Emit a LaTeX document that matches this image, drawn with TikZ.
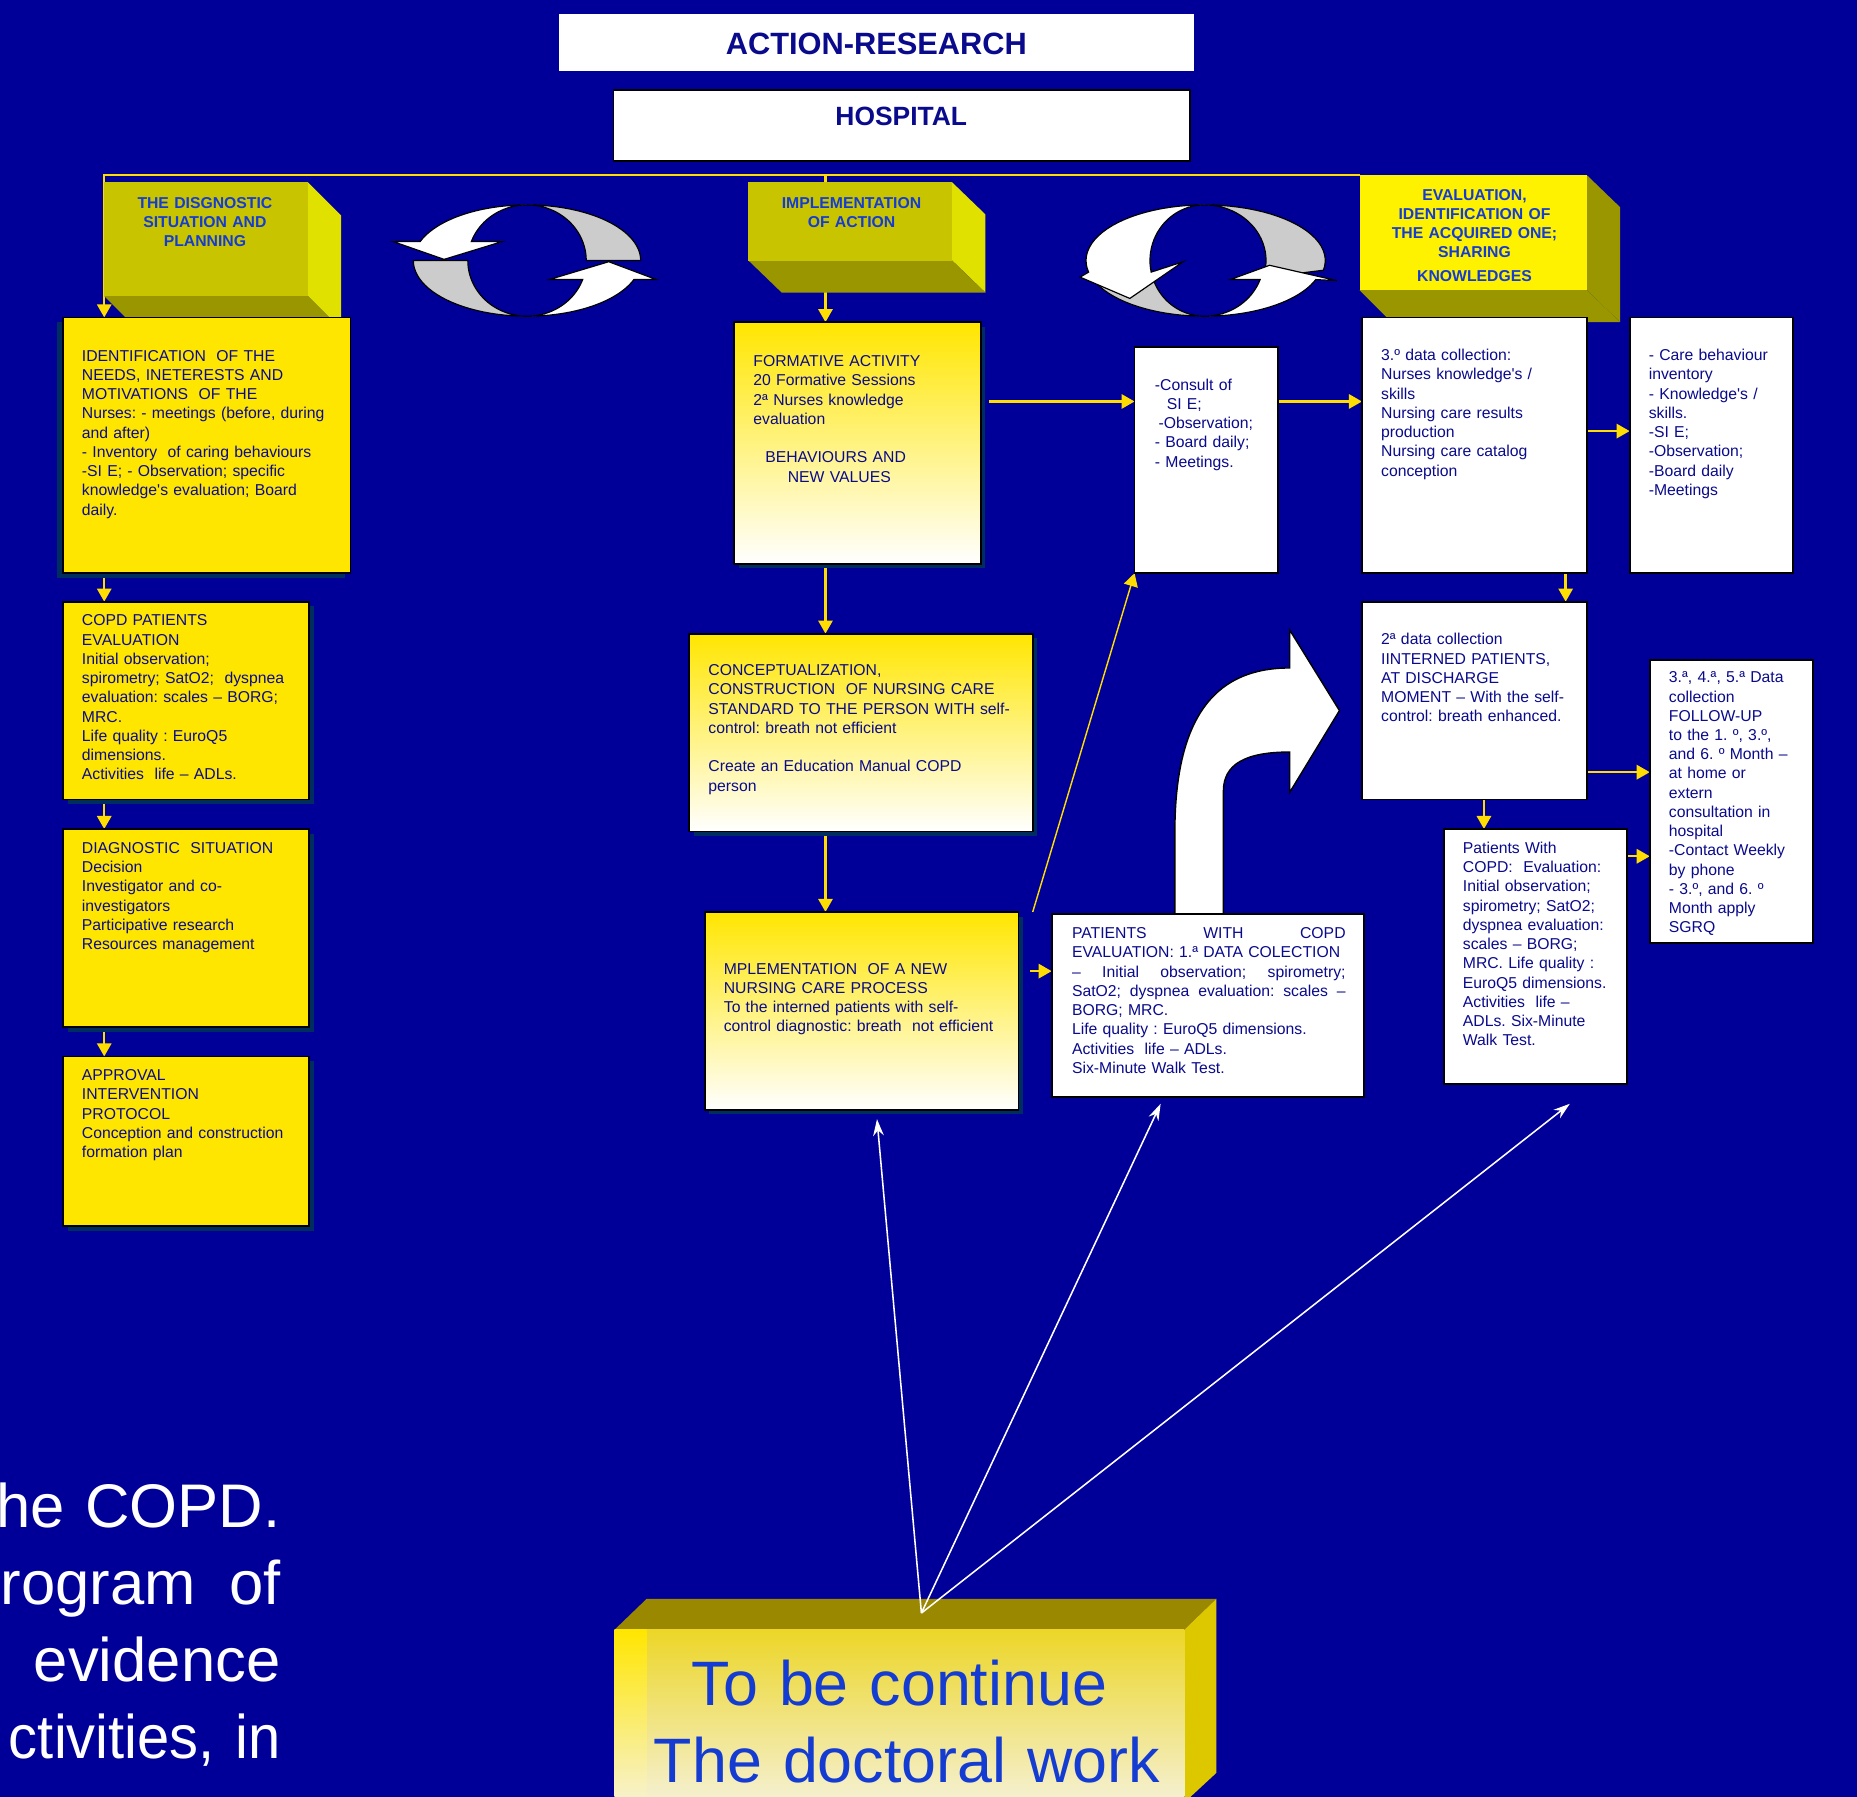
\documentclass[tikz,border=0pt]{standalone}
\usepackage{fontspec}
\setmainfont{Liberation Sans}
\frenchspacing
\usetikzlibrary{positioning, arrows.meta, shadows}
\definecolor{slideblue}{RGB}{0,0,153}
\definecolor{boxyellow}{RGB}{255,230,0}
\definecolor{paleyellow}{RGB}{255,242,150}
\definecolor{lineyellow}{RGB}{255,221,0}
\definecolor{inkblue}{RGB}{10,10,140}
\definecolor{headblue}{RGB}{20,60,210}
\definecolor{oliveface}{RGB}{200,196,0}
\definecolor{oliveside}{RGB}{225,225,0}
\definecolor{olivedark}{RGB}{153,150,0}
\definecolor{olivetop}{RGB}{153,136,0}
\definecolor{tbcside}{RGB}{221,200,0}
\definecolor{tbctop}{RGB}{236,214,40}
\definecolor{tbcbottom}{RGB}{246,243,228}
\definecolor{ringgray}{RGB}{204,204,204}
\definecolor{shadowblue}{RGB}{0,45,95}

\pgfdeclarelayer{bg}
\pgfdeclarelayer{wires}
\pgfsetlayers{bg,wires,main}

\tikzset{
    x=1pt, y=-1pt, % one unit = one pixel of the slide, y grows downwards
    panel/.style={anchor=north west, inner sep=0pt, outer sep=0pt, line width=1.5pt, draw=black},
    boxshadow/.style={drop shadow={shadow xshift=#1, shadow yshift=-4pt, fill=shadowblue, opacity=1}},
    boxshadow/.default=4pt,
    yellowbox/.style={panel, fill=boxyellow},
    fadebox/.style={panel, top color=boxyellow, middle color=paleyellow, bottom color=white},
    whitebox/.style={panel, fill=white},
    headface/.style={anchor=north west, inner sep=0pt, outer sep=0pt},
    boxtext/.style={anchor=base west, inner sep=0pt, text width=300pt, align=left, text=inkblue, font=\fontsize{13.3}{16.25}\selectfont},
    headtext/.style={anchor=base, inner sep=0pt, text width=200pt, align=center, text=headblue, font=\bfseries\fontsize{13.3}{16.25}\selectfont},
    yarrow/.style={draw=lineyellow, line width=2pt, -{Triangle[width=12pt,length=11pt]}},
    thinyarrow/.style={yarrow, line width=1.2pt},
    warrow/.style={draw=white, line width=1.3pt, -{Stealth[width=9pt,length=14pt]}},
    ringpart/.style={line width=1pt, draw=black, fill=#1},
}

\begin{document}
\begin{tikzpicture}
\useasboundingbox (0,0) rectangle (1568,1517);
\begin{pgfonlayer}{bg}
  \fill[slideblue] (0,0) rectangle (1568,1517);
\end{pgfonlayer}
\clip (0,0) rectangle (1568,1517);

% titles
\node[headface, fill=white, minimum width=536, minimum height=48] (title) at (472,12) {};
\node[anchor=base, inner sep=0pt, text=inkblue, font=\bfseries\fontsize{26}{30}\selectfont] (titletxt) at (740,46) {ACTION-RESEARCH};
\node[whitebox, minimum width=487, minimum height=60] (hospital) at (518,76) {};
\node[anchor=base, inner sep=0pt, text=inkblue, font=\bfseries\fontsize{22.3}{26}\selectfont] (hospitaltxt) at (761,106) {HOSPITAL};
\coordinate (branch) at (697,148);

% the three phase blocks
\fill[oliveside] (260,154) -- (288,182) -- (288,278) -- (260,250) -- cycle;
\fill[olivedark] (88,250) -- (260,250) -- (288,278) -- (116,278) -- cycle;
\node[headface, fill=oliveface, minimum width=172, minimum height=96] (diaghead) at (88,154) {};
\node[headtext] (diagtxt) at (173,176) {THE DISGNOSTIC\\SITUATION AND\\PLANNING};

\fill[oliveside] (804,154) -- (832,181) -- (832,247) -- (804,220) -- cycle;
\fill[olivedark] (632,220) -- (804,220) -- (832,247) -- (660,247) -- cycle;
\node[headface, fill=oliveface, minimum width=172, minimum height=66] (implhead) at (632,154) {};
\node[headtext] (impltxt) at (719,176) {IMPLEMENTATION\\OF ACTION};

\fill[olivedark] (1340,148) -- (1368,175) -- (1368,272) -- (1340,245) -- cycle;
\fill[olivedark] (1148,245) -- (1340,245) -- (1368,272) -- (1175,272) -- cycle;
\node[headface, fill=yellow, minimum width=192, minimum height=97] (evalhead) at (1148,148) {};
\node[headtext] (evaltxt) at (1245,169) {EVALUATION,\\IDENTIFICATION OF\\THE ACQUIRED ONE;\\SHARING\\[4pt]KNOWLEDGES};

% circular arrows between the phases
\begin{scope}[shift={(445,220)}]
  \draw[ringpart=ringgray] plot[domain=90:0,samples=25] ({96*cos(\x)},{-47*sin(\x)})
      -- plot[domain=0:90,samples=25] ({50*cos(\x)},{-47*sin(\x)}) -- cycle;
  \draw[ringpart=ringgray] plot[domain=180:270,samples=25] ({96*cos(\x)},{-47*sin(\x)})
      -- plot[domain=270:180,samples=25] ({50*cos(\x)},{-47*sin(\x)}) -- cycle;
  \draw[ringpart=white] plot[domain=90:160,samples=25] ({96*cos(\x)},{-47*sin(\x)})
      -- (-113,-16) -- (-70,-1) -- (-21,-16)
      -- plot[domain=160:90,samples=25] ({50*cos(\x)},{-47*sin(\x)}) -- cycle;
  \draw[ringpart=white] plot[domain=270:340,samples=25] ({96*cos(\x)},{-47*sin(\x)})
      -- (109,16) -- (69,1) -- (19,16)
      -- plot[domain=340:270,samples=25] ({50*cos(\x)},{-47*sin(\x)}) -- cycle;
\end{scope}
\begin{scope}[shift={(1017,220)}]
  \draw[ringpart=ringgray] plot[domain=90:-10,samples=25] ({102*cos(\x)},{-47*sin(\x)})
      -- plot[domain=-18:90,samples=25] ({52*cos(\x)},{-47*sin(\x)}) -- cycle;
  \draw[ringpart=ringgray] plot[domain=178:270,samples=25] ({100*cos(\x)},{-47*sin(\x)})
      -- plot[domain=270:178,samples=25] ({46*cos(\x)},{-47*sin(\x)}) -- cycle;
  \draw[ringpart=white] plot[domain=90:192,samples=25] ({100*cos(\x)},{-47*sin(\x)})
      -- (-105,14) -- (-63,32) -- (-18,1)
      -- plot[domain=192:90,samples=25] ({46*cos(\x)},{-47*sin(\x)}) -- cycle;
  \draw[ringpart=white] plot[domain=270:340,samples=25] ({100*cos(\x)},{-47*sin(\x)})
      -- (112,17) -- (55,4) -- (22,16)
      -- plot[domain=340:270,samples=25] ({50*cos(\x)},{-47*sin(\x)}) -- cycle;
\end{scope}

% diagnostic column
\node[yellowbox, boxshadow=-5pt, minimum width=243, minimum height=216] (ident) at (53,268) {};
\node[boxtext] (identtxt) at (69,305) {IDENTIFICATION~ OF THE\\NEEDS, INETERESTS AND\\MOTIVATIONS~ OF THE\\Nurses: - meetings (before, during\\and after)\\- Inventory~ of caring behaviours\\-SI E; - Observation; specific\\knowledge\textquotesingle s evaluation; Board\\daily.};
\node[yellowbox, boxshadow, minimum width=208, minimum height=167] (copd) at (53,508) {};
\node[boxtext] (copdtxt) at (69,528.5) {COPD PATIENTS\\EVALUATION\\Initial observation;\\spirometry; SatO2;~ dyspnea\\evaluation: scales – BORG;\\MRC.\\Life quality : EuroQ5\\dimensions.\\Activities~ life – ADLs.};
\node[yellowbox, boxshadow, minimum width=208, minimum height=167] (diagsit) at (53,700) {};
\node[boxtext] (diagsittxt) at (69,720.5) {DIAGNOSTIC~ SITUATION\\Decision\\Investigator and co-\\investigators\\Participative research\\Resources management};
\node[yellowbox, boxshadow, minimum width=208, minimum height=143] (approval) at (53,892) {};
\node[boxtext] (approvaltxt) at (69,912.5) {APPROVAL\\INTERVENTION\\PROTOCOL\\Conception and construction\\formation plan};

% action column
\node[fadebox, boxshadow, minimum width=208, minimum height=204] (formative) at (620,272) {};
\node[boxtext] (formativetxt) at (636,309.5) {FORMATIVE ACTIVITY\\20 Formative Sessions\\2ª Nurses knowledge\\evaluation\\[16.25pt]\hspace*{10pt}BEHAVIOURS AND\\\hspace*{29pt}NEW VALUES};
\node[fadebox, boxshadow, minimum width=290, minimum height=167] (concept) at (582,535) {};
\node[boxtext] (concepttxt) at (598,570.5) {CONCEPTUALIZATION,\\CONSTRUCTION~ OF NURSING CARE\\STANDARD TO THE PERSON WITH self-\\control: breath not efficient\\[16.25pt]Create an Education Manual COPD\\person};
\node[fadebox, boxshadow, minimum width=265, minimum height=167] (mplement) at (595,770) {};
\node[boxtext] (mplementtxt) at (611,822.5) {MPLEMENTATION~ OF A NEW\\NURSING CARE PROCESS\\To the interned patients with self-\\control diagnostic: breath~ not efficient};

% evaluation side
\node[whitebox, minimum width=121, minimum height=191] (consult) at (958,293) {};
\node[boxtext] (consulttxt) at (975,329.5) {-Consult of\\\hspace*{10pt}SI E;\\\hspace*{3pt}-Observation;\\- Board daily;\\- Meetings.};
\node[whitebox, minimum width=190, minimum height=216] (threeo) at (1150,268) {};
\node[boxtext] (threeotxt) at (1166,304.5) {3.º data collection:\\Nurses knowledge\textquotesingle s /\\skills\\Nursing care results\\production\\Nursing care catalog\\conception};
\node[whitebox, minimum width=138, minimum height=216] (care) at (1376,268) {};
\node[boxtext] (caretxt) at (1392,304.5) {- Care behaviour\\inventory\\- Knowledge\textquotesingle s /\\skills.\\-SI E;\\-Observation;\\-Board daily\\-Meetings};
\node[whitebox, minimum width=190, minimum height=167] (twoa) at (1150,508) {};
\node[boxtext] (twoatxt) at (1166,544.5) {2ª data collection\\IINTERNED PATIENTS,\\AT DISCHARGE\\MOMENT – With the self-\\control: breath enhanced.};
\node[whitebox, minimum width=138, minimum height=239] (followup) at (1393,557) {};
\node[boxtext] (followuptxt) at (1409,576.5) {3.ª, 4.ª, 5.ª Data\\collection\\FOLLOW-UP\\to the 1. º, 3.º,\\and 6. º Month –\\at home or\\extern\\consultation in\\hospital\\-Contact Weekly\\by phone\\- 3.º, and 6. º\\Month apply\\SGRQ};
\node[whitebox, minimum width=155, minimum height=215] (patwith) at (1219,700) {};
\node[boxtext] (patwithtxt) at (1235,720.5) {Patients With\\COPD:~ Evaluation:\\Initial observation;\\spirometry; SatO2;\\dyspnea evaluation:\\scales – BORG;\\MRC. Life quality :\\EuroQ5 dimensions.\\Activities~ life –\\ADLs. Six-Minute\\Walk Test.};
\node[whitebox, minimum width=264, minimum height=154] (patients) at (888,772) {};
\node[boxtext] (patientstxt) at (905,792.5) {\makebox[231pt][s]{PATIENTS\hfill WITH\hfill COPD}\\EVALUATION: 1.ª DATA COLECTION\\\makebox[231pt][s]{–\hfill Initial\hfill observation;\hfill spirometry;}\\\makebox[231pt][s]{SatO2;\hfill dyspnea\hfill evaluation:\hfill scales\hfill –}\\BORG; MRC.\\Life quality : EuroQ5 dimensions.\\Activities~ life – ADLs.\\Six-Minute Walk Test.};

% doctoral work block
\fill[olivetop] (519,1376) -- (546,1350) -- (1027,1350) -- (1000,1376) -- cycle;
\fill[tbcside] (1000,1376) -- (1027,1350) -- (1027,1497) -- (1000,1522) -- cycle;
\node[headface, top color=tbctop, bottom color=tbcbottom, minimum width=481, minimum height=160] (tbc) at (519,1376) {};
\shade[top color=boxyellow, bottom color=tbcbottom] (519,1376) rectangle (546,1536);
\node[anchor=base west, inner sep=0pt, text width=500pt, align=left, text=headblue, font=\fontsize{53}{65}\selectfont] (tbctxt) at (552,1440) {\hspace*{32pt}To be continue\\The doctoral work};
\coordinate (hub) at (778,1362);

\node[anchor=base east, inner sep=0pt, text width=400pt, align=right, text=white, font=\fontsize{52}{65}\selectfont] (slidetxt) at (237,1290) {he COPD.\\rogram\hspace{28pt}of\\evidence\\{\addfontfeature{FakeStretch=0.94}ctivities, in}};

\draw[warrow] (hub) -- ([shift={(13,8)}]mplement.south);
\draw[warrow] (hub) -- ([shift={(-40,6)}]patients.south);
\draw[warrow] (hub) -- ([shift={(29,17)}]patwith.south);

\begin{pgfonlayer}{wires}
  \draw[yarrow] (evalhead.north west) -| ([xshift=35pt]ident.north west);
  \draw[yarrow] (branch) -- (branch |- formative.north);
  \draw[yarrow] ([xshift=35pt]ident.south west) -- ([xshift=35pt]copd.north west);
  \draw[yarrow] ([xshift=35pt]copd.south west) -- ([xshift=35pt]diagsit.north west);
  \draw[yarrow] ([xshift=35pt]diagsit.south west) -- ([xshift=35pt]approval.north west);
  \draw[yarrow] (formative.south -| branch) -- (concept.north -| branch);
  \draw[yarrow] (concept.south -| branch) -- (mplement.north -| branch);
  \coordinate (rowa) at (0,339);
  \coordinate (rowb) at (0,364);
  \coordinate (rowc) at (0,652);
  \coordinate (rowd) at (0,723);
  \coordinate (rowe) at (0,820);
  \coordinate (colr) at (1322,0);
  \coordinate (cols) at (1253,0);
  \draw[yarrow, shorten <=7pt] (formative.east |- rowa) -- (consult.west |- rowa);
  \draw[yarrow] (consult.east |- rowa) -- (threeo.west |- rowa);
  \draw[yarrow] (threeo.east |- rowb) -- (care.west |- rowb);
  \draw[yarrow] (threeo.south -| colr) -- (twoa.north -| colr);
  \draw[yarrow] (twoa.east |- rowc) -- (followup.west |- rowc);
  \draw[yarrow] (twoa.south -| cols) -- (patwith.north -| cols);
  \draw[yarrow] (patwith.east |- rowd) -- (followup.west |- rowd);
  \draw[yarrow, shorten <=10pt] (mplement.east |- rowe) -- (patients.west |- rowe);
  \draw[thinyarrow] ([xshift=12pt]mplement.north east) -- (consult.south west);
  % bent block arrow out of the first data collection
  \filldraw[fill=white, draw=black, line width=1.2pt] (992,772) -- (992,703)
      .. controls (992,600) and (1030,564) .. (1089,564) -- (1089,532) -- (1131,600)
      -- (1089,669) -- (1089,635) .. controls (1052,635) and (1033,645) .. (1033,668)
      -- (1033,772) -- cycle;
\end{pgfonlayer}
\end{tikzpicture}
\end{document}
